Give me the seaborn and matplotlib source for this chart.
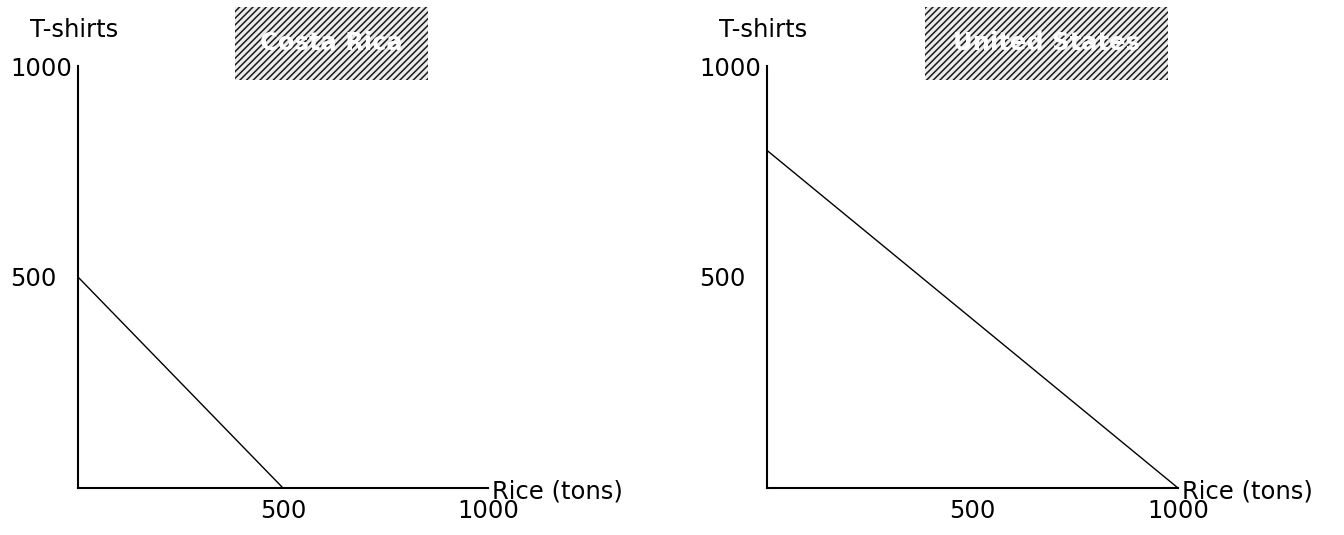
import matplotlib

matplotlib.use("Agg")
import matplotlib.pyplot as plt
import pandas as pd
import seaborn as sns
from matplotlib.patches import Rectangle

# production possibilities for each country
countries = ["Costa Rica", "United States"]
tshirt_max = [500, 800]
rice_max = [500, 1000]
x_ticks = [500, 1000]
y_ticks = [500, 1000]

sns.set_theme(style="white")
plt.rcParams["font.family"] = ["DejaVu Sans"]
plt.rcParams["hatch.linewidth"] = 1.1
plt.rcParams["hatch.color"] = "#1a1a1a"

fig = plt.figure(figsize=(13.44, 5.35), dpi=100)
W, H = 1344, 535

# axes placement in pixels: (left, right) of each panel, shared bottom/top
panel_x = [(78, 488), (767, 1178)]
ax_bottom, ax_top = 488, 66
# title boxes (pixels)
box_x = [(235, 428), (925, 1168)]
box_y = (7, 80)
FS = 17.5

for i, country in enumerate(countries):
    x0, x1 = panel_x[i]
    ax = fig.add_axes([x0 / W, 1 - ax_bottom / H, (x1 - x0) / W, (ax_bottom - ax_top) / H])
    df = pd.DataFrame({"rice": [0, rice_max[i]], "tshirts": [tshirt_max[i], 0]})
    sns.lineplot(data=df, x="rice", y="tshirts", ax=ax, color="black", linewidth=1.0)
    ax.set_xlim(0, 1000)
    ax.set_ylim(0, 1000)
    sns.despine(ax=ax)
    for side in ["left", "bottom"]:
        ax.spines[side].set_color("black")
        ax.spines[side].set_linewidth(1.5)
    ax.set_xticks(x_ticks)
    ax.set_yticks(y_ticks)
    ax.tick_params(axis="both", length=0, labelsize=FS, colors="black")
    ax.tick_params(axis="x", pad=8)
    ax.tick_params(axis="y", pad=49)
    for lab in ax.get_yticklabels():
        lab.set_horizontalalignment("left")
    ax.set_xlabel("")
    ax.set_ylabel("")
    # axis titles at the ends of the axes
    ax.text(-0.117, 1.085, "T-shirts", transform=ax.transAxes, fontsize=FS,
            ha="left", va="center", color="black")
    ax.text(1.01, -0.008, "Rice (tons)", transform=ax.transAxes, fontsize=FS,
            ha="left", va="center", color="black")

    # hatched title box
    bx0, bx1 = box_x[i]
    by0, by1 = box_y
    rect = Rectangle((bx0 / W, 1 - by1 / H), (bx1 - bx0) / W, (by1 - by0) / H,
                     transform=fig.transFigure, facecolor="#ececec",
                     edgecolor="#1a1a1a", hatch="/////", linewidth=0)
    fig.patches.append(rect)
    fig.text((bx0 + bx1) / 2 / W, 1 - (by0 + by1) / 2 / H, country,
             ha="center", va="center", fontsize=FS, color="white",
             fontweight="bold")

fig.savefig("out.png", dpi=100)
